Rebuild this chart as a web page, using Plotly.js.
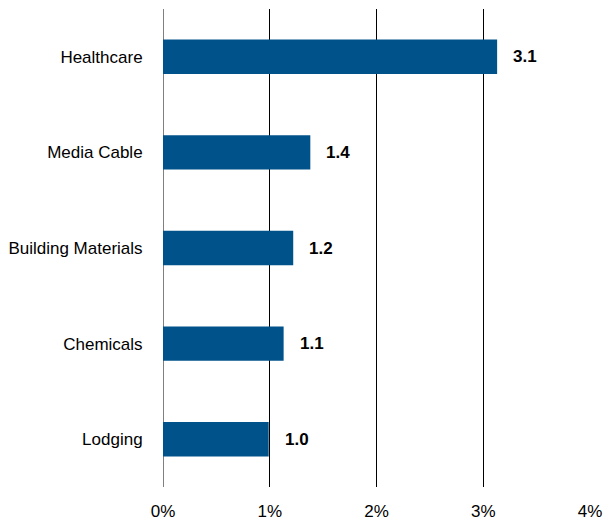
<!DOCTYPE html>
<html>
<head>
<meta charset="utf-8">
<script src="https://cdn.plot.ly/plotly-3.0.1.min.js"></script>
<style>html,body{margin:0;padding:0;background:#fff;}#chart{width:603px;height:522px;}</style>
</head>
<body>
<div id="chart"></div>
<script>
const categories = ["Healthcare", "Media Cable", "Building Materials", "Chemicals", "Lodging"];
const values = [3.13, 1.38, 1.22, 1.13, 0.99];
const tickVals = [0, 1, 2, 3, 4];
const tickText = ["0%", "1%", "2%", "3%", "4%"];

const fontFamily = "'Liberation Sans Narrow', 'Arial Narrow', 'Liberation Sans', Arial, sans-serif";

const trace = {
  type: "bar",
  orientation: "h",
  y: categories,
  x: values,
  marker: { color: "#00538A" },
  width: 0.36,
  hoverinfo: "none"
};

const annotations = categories.map((c, i) => ({
  x: values[i], y: c, xref: "x", yref: "y",
  text: "<b>" + values[i].toFixed(1) + "</b>",
  showarrow: false, xanchor: "left", xshift: 14,
  font: { family: fontFamily, size: 17, color: "#000" }
}));

const layout = {
  width: 603, height: 522,
  margin: { l: 163, r: 13, t: 9, b: 35 },
  paper_bgcolor: "#fff", plot_bgcolor: "#fff",
  showlegend: false,
  bargap: 0.64,
  xaxis: {
    range: [0, 4],
    tickvals: tickVals, ticktext: tickText,
    showgrid: true, gridcolor: "#000", gridwidth: 1,
    zeroline: true, zerolinecolor: "#808080", zerolinewidth: 1,
    showline: false,
    ticks: "outside", ticklen: 9, tickcolor: "rgba(0,0,0,0)",
    tickfont: { family: fontFamily, size: 17, color: "#000" },
    fixedrange: true
  },
  yaxis: {
    autorange: "reversed",
    range: [-0.5, 4.5],
    showgrid: false, zeroline: false, showline: false,
    ticks: "outside", ticklen: 16, tickcolor: "rgba(0,0,0,0)",
    tickfont: { family: fontFamily, size: 17, color: "#000" },
    fixedrange: true
  },
  annotations: annotations
};

Plotly.newPlot("chart", [trace], layout, { displayModeBar: false, staticPlot: true });
</script>
</body>
</html>
